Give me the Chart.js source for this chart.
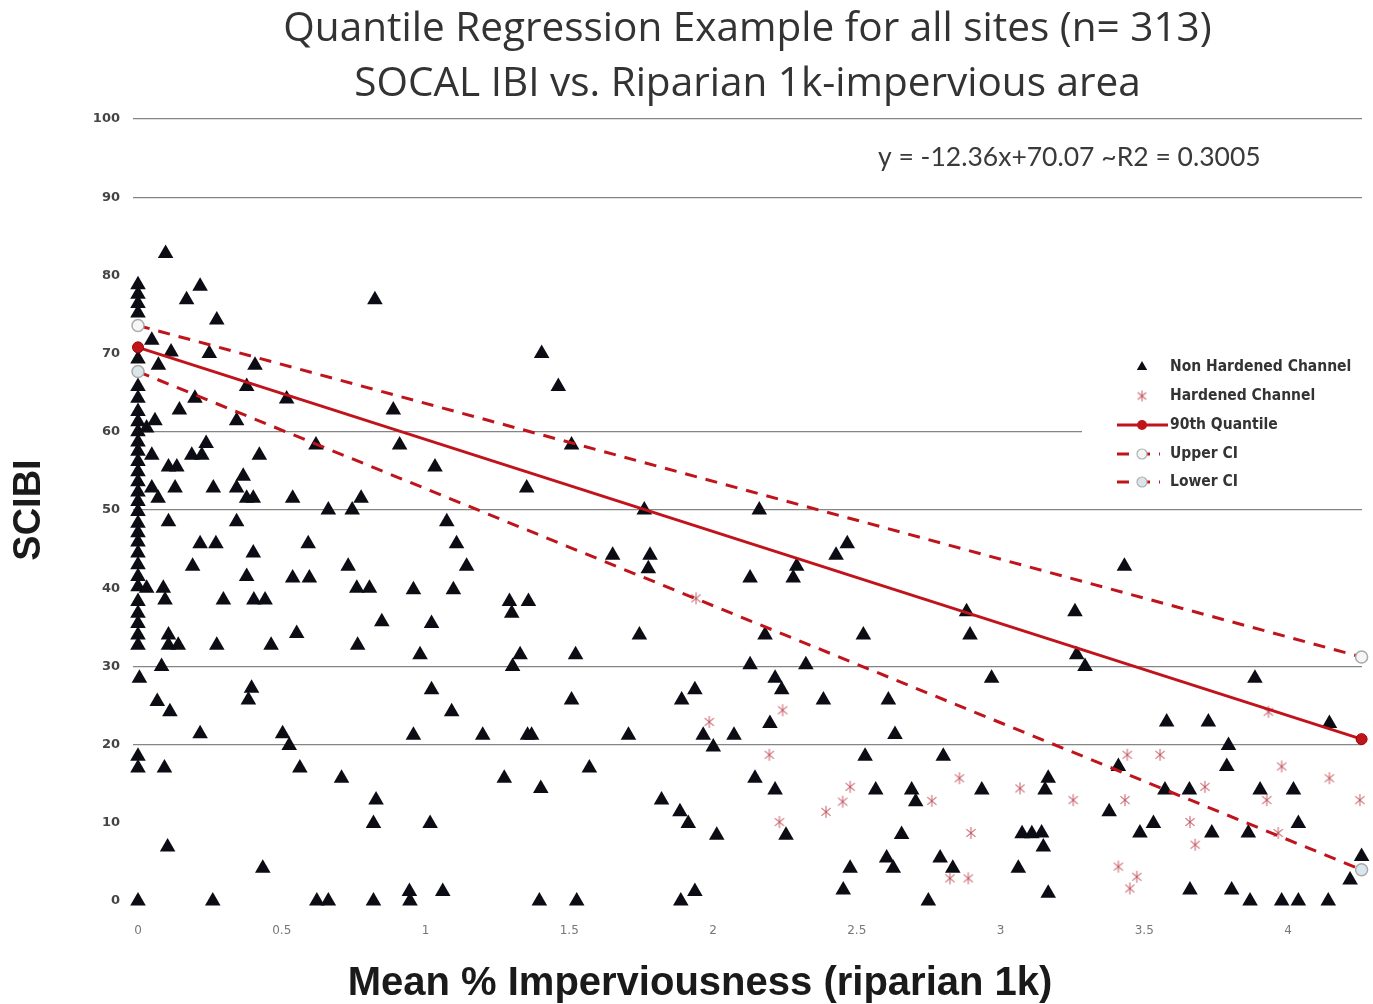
<!DOCTYPE html>
<html><head><meta charset="utf-8">
<script src="https://cdn.jsdelivr.net/npm/chart.js@4.4.0/dist/chart.umd.min.js"></script>
<style>html,body{margin:0;padding:0;background:#fff;} canvas{display:block;}</style>
</head><body>
<canvas id="c" width="1373" height="1004"></canvas>
<script>
const titleLines = ['Quantile Regression Example for all sites (n= 313)', 'SOCAL IBI vs. Riparian 1k-impervious area'];
const xAxisTitle = 'Mean % Imperviousness (riparian 1k)';
const yAxisTitle = 'SCIBI';
const equationText = 'y = -12.36x+70.07 ~R2 = 0.3005';
const xTicks = [0, 0.5, 1, 1.5, 2, 2.5, 3, 3.5, 4];
const xTickLabels = ['0', '0.5', '1', '1.5', '2', '2.5', '3', '3.5', '4'];
const gridValues = [20, 30, 50, 60, 90, 100];
const legendLabels = ['Non Hardened Channel', 'Hardened Channel', '90th Quantile', 'Upper CI', 'Lower CI'];

const nonHardX = [
 0,0,0,0,0,0,0,0,0,0,0,0,0,0,0,0,0,0,0,0,0,0,0,0,0,0,0,0,0,0,0.005,0,0,0,
 0.03,0.059,0.048,0.07,0.03,0.048,
 0.048,0.115,0.071,0.096,0.216,0.169,0.274,0.248,0.407,0.378,0.517,0.198,0.144,0.343,0.888,0.824,0.619,0.91,0.237,0.187,0.222,0.422,0.106,0.135,0.366,0.129,0.262,0.343,0.378,0.401,0.538,0.776,0.662,0.745,0.106,0.343,0.216,0.271,0.592,0.401,0.19,0.731,0.378,0.538,0.596,0.761,0.805,0.088,
 0.094,0.297,0.403,0.442,0.848,0.106,0.552,0.106,0.14,0.274,0.463,0.764,0.082,0.395,0.384,0.067,0.111,0.216,0.503,0.526,0.563,0.092,0.708,0.828,0.819,0.103,0.434,0.26,0.622,0.662,0.819,
 1.404,1.462,1.508,1.033,1.352,1.761,1.074,1.108,1.143,1.651,1.781,1.775,
 0.958,1.097,1.292,1.358,1.3,1.021,1.744,0.981,1.329,1.303,1.522,1.021,1.937,1.891,1.508,1.091,0.958,1.199,1.369,1.355,1.706,1.966,2.001,1.57,1.274,1.401,1.821,1.885,1.914,2.013,1.016,0.944,0.946,1.06,1.396,1.526,1.888,1.937,
 2.161,2.467,2.428,2.291,2.129,2.279,
 2.882,2.894,2.181,2.523,2.129,2.323,2.216,2.239,2.969,2.384,2.61,2.198,2.073,2.633,2.529,2.801,2.146,2.216,2.566,2.691,2.705,2.935,2.254,2.656,2.604,2.627,2.477,2.453,2.79,2.834,2.749,3.075,3.109,3.062,
 3.431,3.259,3.265,3.294,3.885,3.578,3.723,3.793,4.144,3.787,3.41,3.166,3.155,3.572,3.657,3.903,4.019,3.378,3.532,4.036,3.485,3.735,3.862,3.143,3.149,3.166,3.659,3.804,3.868,3.978,4.036,4.14,4.256,4.216
];
const nonHardY = [
 78.8,77.6,76.4,75.2,69.3,65.8,64.3,62.6,61.3,60.0,58.7,57.5,56.2,54.9,53.6,52.3,51.1,49.8,48.3,47.1,45.9,44.5,43.0,41.5,40.2,38.3,36.8,35.5,34.0,32.7,28.5,18.5,17.0,0,
 60.5,61.4,52.8,51.5,40.0,57.0,
 71.7,70.2,68.5,82.8,78.6,76.9,74.3,70.0,68.5,65.8,64.2,64.3,62.8,61.4,62.8,76.9,58.3,58.3,58.5,57.0,57.0,57.0,55.5,55.5,54.3,52.8,52.8,52.8,51.5,51.5,51.5,51.5,50.0,50.0,48.5,48.5,45.7,45.7,45.7,44.5,42.8,42.8,41.5,41.3,41.3,40.0,40.0,40.0,
 38.5,38.5,38.5,38.5,35.7,34.0,34.2,32.7,32.7,32.7,32.7,32.7,30.0,27.2,25.7,25.5,24.2,21.4,21.4,19.9,17.0,17.0,15.7,12.9,9.9,6.9,4.2,0,0,0,0,
 70.0,65.8,58.3,55.5,52.8,50.0,48.5,45.7,42.8,44.2,44.2,42.5,
 39.8,39.8,38.3,38.3,36.8,35.5,34.0,31.5,31.5,30.0,31.5,27.0,27.0,25.7,25.7,24.2,21.2,21.2,21.2,21.2,21.2,21.2,19.7,17.0,15.7,14.4,12.9,11.4,9.9,8.4,9.9,1.2,0,1.2,0,0,0,1.2,
 50.0,45.7,44.2,42.8,41.3,41.3,
 37.0,34.0,34.0,34.0,30.2,30.2,28.5,27.0,28.5,25.7,25.7,22.7,21.2,21.3,18.5,18.5,15.7,14.2,14.2,14.2,12.7,14.2,8.4,8.5,5.5,4.2,4.2,1.4,5.5,4.2,0,8.6,8.6,4.2,
 42.8,37.0,31.5,30.0,28.5,22.9,22.9,19.9,22.7,17.2,17.2,15.7,14.2,14.2,14.2,14.2,14.2,11.4,9.9,9.9,8.7,8.7,8.7,8.7,6.9,1.0,1.4,1.4,0,0,0,0,5.7,2.7
];
const hardX = [1.941,1.987,2.242,2.196,2.477,2.451,2.393,2.761,2.857,3.068,2.231,2.897,2.824,2.888,3.932,3.441,3.555,3.978,4.144,3.711,3.926,3.253,3.433,4.25,3.659,3.966,3.677,3.41,3.474,3.45];
const hardY = [38.7,22.9,24.4,18.7,14.6,12.7,11.4,12.8,15.7,14.4,10.1,8.7,2.9,2.9,24.2,18.7,18.7,17.2,15.7,14.6,12.9,12.9,12.9,12.9,10.1,8.7,7.2,4.4,3.1,1.6];

const lineX = [0, 4.256];
const q90Y = [70.8, 20.7];
const upperY = [73.6, 31.2];
const lowerY = [67.7, 4.0];

const pts = (xs, ys) => xs.map((x, i) => ({x: x, y: ys[i]}));
const RED = '#c0141c';
const STAR_COLOR = 'rgba(190,70,80,0.8)';

function makeAsterisk(size) {
  const c = document.createElement('canvas');
  c.width = size; c.height = size;
  const g = c.getContext('2d');
  const m = size / 2, r = size / 2 - 1;
  g.strokeStyle = STAR_COLOR; g.lineWidth = 1.1;
  [90, 40, 140].forEach(deg => {
    const a = deg * Math.PI / 180;
    g.beginPath();
    g.moveTo(m - r * Math.cos(a), m - r * Math.sin(a));
    g.lineTo(m + r * Math.cos(a), m + r * Math.sin(a));
    g.stroke();
  });
  return c;
}
const asterisk = makeAsterisk(14);
const asteriskSmall = makeAsterisk(13);

const overlay = {
  id: 'overlay',
  afterDraw(chart) {
    const ctx = chart.ctx;
    ctx.save();
    ctx.fillStyle = '#ffffff';
    ctx.fillRect(1082, 350, 280, 147);
    const rows = [367, 396, 425, 454, 482];
    const mx = 1142, tx = 1170;
    ctx.fillStyle = '#0c0c14';
    ctx.beginPath();
    const r = 6;
    ctx.moveTo(mx, rows[0] - r);
    ctx.lineTo(mx + r * Math.sin(2*Math.PI/3), rows[0] + r/2);
    ctx.lineTo(mx - r * Math.sin(2*Math.PI/3), rows[0] + r/2);
    ctx.closePath(); ctx.fill();
    ctx.drawImage(asteriskSmall, mx - 6.5, rows[1] - 6.5);
    ctx.strokeStyle = RED; ctx.lineWidth = 3;
    ctx.beginPath(); ctx.moveTo(1117, rows[2]); ctx.lineTo(1168, rows[2]); ctx.stroke();
    ctx.fillStyle = RED; ctx.beginPath(); ctx.arc(mx, rows[2], 5, 0, 2*Math.PI); ctx.fill();
    [[rows[3], '#f6f6f6'], [rows[4], '#dbe6ec']].forEach(([y, fill]) => {
      ctx.strokeStyle = RED; ctx.lineWidth = 3; ctx.setLineDash([12, 9]);
      ctx.beginPath(); ctx.moveTo(1117, y); ctx.lineTo(1160, y); ctx.stroke();
      ctx.setLineDash([]);
      ctx.fillStyle = fill; ctx.strokeStyle = '#b0b0b0'; ctx.lineWidth = 1.2;
      ctx.beginPath(); ctx.arc(mx, y, 5, 0, 2*Math.PI); ctx.fill(); ctx.stroke();
    });
    ctx.fillStyle = '#333';
    ctx.font = 'bold 15.5px "Liberation Sans Narrow", "Arial Narrow", "DejaVu Sans Condensed", sans-serif';
    ctx.textAlign = 'left'; ctx.textBaseline = 'middle';
    legendLabels.forEach((t, i) => ctx.fillText(t, tx, rows[i]));
    ctx.font = '26.5px Lato, "Open Sans", sans-serif';
    ctx.fillStyle = '#3a3a3a';
    ctx.fillText(equationText, 878, 157);
    ctx.font = 'bold 40px "Liberation Sans", Arial, sans-serif';
    ctx.fillStyle = '#1a1a1a';
    ctx.textAlign = 'center'; ctx.textBaseline = 'alphabetic';
    ctx.fillText(xAxisTitle, 700, 995);
    ctx.restore();
  }
};

new Chart(document.getElementById('c'), {
  type: 'scatter',
  data: {
    datasets: [
      {label: legendLabels[2], data: pts(lineX, q90Y), showLine: true, borderColor: RED, borderWidth: 3,
       pointRadius: 5.5, pointBackgroundColor: RED, pointBorderColor: '#a00000', pointBorderWidth: 1, clip: false, order: 0},
      {label: legendLabels[3], data: pts(lineX, upperY), showLine: true, borderColor: RED, borderWidth: 3, borderDash: [12, 9],
       pointRadius: 6, pointBackgroundColor: '#f6f6f6', pointBorderColor: '#aaaaaa', pointBorderWidth: 1.5, clip: false, order: 0},
      {label: legendLabels[4], data: pts(lineX, lowerY), showLine: true, borderColor: RED, borderWidth: 3, borderDash: [12, 9],
       pointRadius: 6, pointBackgroundColor: '#dbe6ec', pointBorderColor: '#aaaaaa', pointBorderWidth: 1.5, clip: false, order: 0},
      {label: legendLabels[1], data: pts(hardX, hardY), pointStyle: asterisk, pointRadius: 7,
       borderColor: STAR_COLOR, backgroundColor: 'rgba(0,0,0,0)', borderWidth: 1, clip: false, order: 1},
      {label: legendLabels[0], data: pts(nonHardX, nonHardY), pointStyle: 'triangle', pointRadius: 9,
       backgroundColor: '#0c0c14', borderColor: '#0c0c14', borderWidth: 0, clip: false, order: 2}
    ]
  },
  options: {
    responsive: false,
    animation: false,
    events: [],
    layout: {padding: {left: 0, right: 11, top: 0, bottom: 0}},
    plugins: {
      legend: {display: false},
      tooltip: {enabled: false},
      title: {display: true, fullSize: false, text: titleLines, color: '#333',
        font: {family: '"Open Sans", Lato, sans-serif', size: 40.5, weight: 'normal', lineHeight: 1.358},
        padding: {top: 2, bottom: 7}}
    },
    scales: {
      x: {
        type: 'linear', min: -0.0174, max: 4.2574,
        afterBuildTicks: (s) => { s.ticks = xTicks.map(v => ({value: v})); },
        afterFit: (s) => { s.height = 103; },
        ticks: {padding: 23, color: '#777', font: {family: '"DejaVu Sans", sans-serif', size: 12},
          callback: (v, i) => xTickLabels[i]},
        grid: {display: false, drawTicks: false},
        border: {display: false}
      },
      y: {
        min: 0, max: 100,
        afterFit: (s) => { s.width = 133; },
        ticks: {stepSize: 10, padding: 13, color: '#444', font: {family: '"DejaVu Sans", sans-serif', size: 13, weight: 'bold'}},
        grid: {drawTicks: false, lineWidth: 1.2,
          color: (c) => (c.tick && gridValues.includes(c.tick.value)) ? '#858585' : 'rgba(0,0,0,0)'},
        border: {display: false},
        title: {display: true, text: yAxisTitle, color: '#1a1a1a', padding: {top: 7, bottom: 0},
          font: {family: '"Liberation Sans", Arial, sans-serif', size: 38, weight: 'bold', lineHeight: 1.2}}
      }
    }
  },
  plugins: [overlay]
});
</script>
</body></html>
